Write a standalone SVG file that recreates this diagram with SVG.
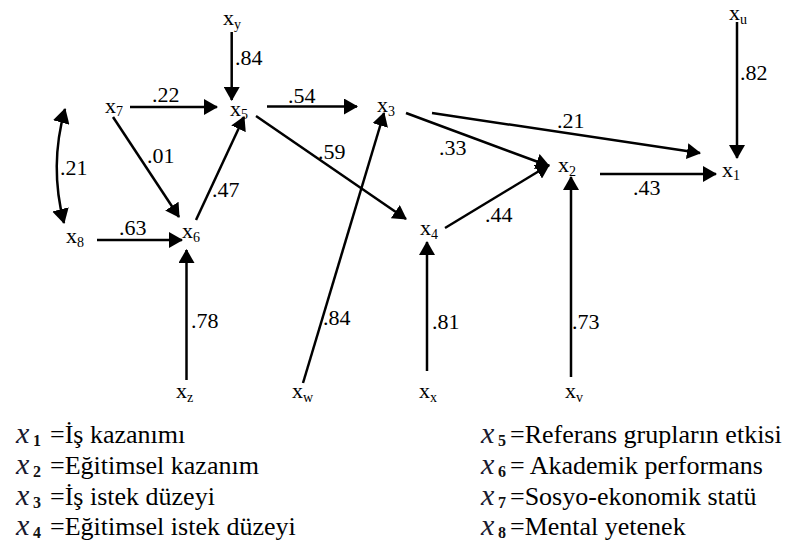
<svg xmlns="http://www.w3.org/2000/svg" width="800" height="554" viewBox="0 0 800 554">
<style>
text{font-family:"Liberation Serif",Tinos,"Times New Roman","DejaVu Serif",serif;fill:#000}
.n{font-size:22px}
.s{font-size:14px}
.lb{font-size:22px}
.lg{font-size:26px}
.lx{font-size:30px;font-style:italic;fill:#1a1a30}
.ls{font-size:16px;font-weight:bold;fill:#111}
.c{stroke:#000;stroke-width:2.5;fill:none}
.a{marker-end:url(#ah)}
</style>
<defs>
<marker id="ah" markerUnits="userSpaceOnUse" viewBox="0 -8 14 16" markerWidth="14" markerHeight="16" refX="13" refY="0" orient="auto">
<path d="M0,-8 L14,0 L0,8 z" fill="#000"/>
</marker>
<marker id="ah2" markerUnits="userSpaceOnUse" viewBox="0 -8.5 15 17" markerWidth="15" markerHeight="17" refX="14" refY="0" orient="auto-start-reverse">
<path d="M0,-8.5 L15,0 L0,8.5 z" fill="#000"/>
</marker>
</defs>
<rect width="800" height="554" fill="#fff"/>
<g id="connectors">
<line class="c a" x1="231.7" y1="32" x2="231.7" y2="100"/>
<line class="c a" x1="130" y1="107" x2="217" y2="107"/>
<line class="c a" x1="113" y1="117" x2="179" y2="217"/>
<line class="c a" x1="196" y1="220" x2="244" y2="117"/>
<line class="c a" x1="97" y1="240" x2="182" y2="240"/>
<path class="c" d="M65,109 Q49,166 64,223" marker-start="url(#ah2)" marker-end="url(#ah2)"/>
<line class="c a" x1="267" y1="106.5" x2="357" y2="106.5"/>
<line class="c a" x1="256" y1="116" x2="406" y2="219"/>
<line class="c a" x1="303" y1="383" x2="384" y2="113"/>
<line class="c a" x1="406" y1="113" x2="549" y2="166"/>
<line class="c a" x1="445" y1="228" x2="549" y2="165"/>
<line class="c a" x1="432" y1="113" x2="700" y2="153"/>
<line class="c a" x1="600" y1="174" x2="716" y2="174"/>
<line class="c a" x1="737" y1="22" x2="737" y2="158"/>
<line class="c a" x1="571" y1="377" x2="571" y2="177"/>
<line class="c a" x1="427" y1="371" x2="427" y2="242"/>
<line class="c a" x1="186.5" y1="380" x2="186.5" y2="250"/>
<text class="lb" x="235" y="65">.84</text>
<text class="lb" x="152" y="102">.22</text>
<text class="lb" x="147" y="163">.01</text>
<text class="lb" x="212" y="197">.47</text>
<text class="lb" x="119" y="235">.63</text>
<text class="lb" x="60" y="175">.21</text>
<text class="lb" x="288" y="103">.54</text>
<text class="lb" x="318" y="159">.59</text>
<text class="lb" x="323" y="325">.84</text>
<text class="lb" x="439" y="155">.33</text>
<text class="lb" x="485" y="222">.44</text>
<text class="lb" x="557" y="128">.21</text>
<text class="lb" x="633" y="195">.43</text>
<text class="lb" x="740" y="80">.82</text>
<text class="lb" x="191" y="328">.78</text>
<text class="lb" x="432" y="329">.81</text>
<text class="lb" x="572" y="329">.73</text>
</g>
<g id="xy"><text class="n" x="223" y="25">x<tspan class="s" dy="4">y</tspan></text></g>
<g id="x7"><text class="n" x="105" y="113">x<tspan class="s" dy="3">7</tspan></text></g>
<g id="x5"><text class="n" x="230" y="116">x<tspan class="s" dy="3">5</tspan></text></g>
<g id="x8"><text class="n" x="66" y="243">x<tspan class="s" dy="4">8</tspan></text></g>
<g id="x6"><text class="n" x="182" y="238">x<tspan class="s" dy="4">6</tspan></text></g>
<g id="x3"><text class="n" x="377" y="112">x<tspan class="s" dy="4">3</tspan></text></g>
<g id="x4"><text class="n" x="420" y="235">x<tspan class="s" dy="4">4</tspan></text></g>
<g id="x2"><text class="n" x="558" y="172">x<tspan class="s" dy="4">2</tspan></text></g>
<g id="xu"><text class="n" x="729" y="20">x<tspan class="s" dy="4">u</tspan></text></g>
<g id="x1"><text class="n" x="722" y="177">x<tspan class="s" dy="3">1</tspan></text></g>
<g id="xz"><text class="n" x="176" y="398">x<tspan class="s" dy="4">z</tspan></text></g>
<g id="xw"><text class="n" x="292" y="398">x<tspan class="s" dy="4">w</tspan></text></g>
<g id="xx"><text class="n" x="419" y="398">x<tspan class="s" dy="4">x</tspan></text></g>
<g id="xv"><text class="n" x="565" y="398">x<tspan class="s" dy="4">v</tspan></text></g>
<g id="legend">
<text class="lx" x="16" y="443">x</text><text class="ls" x="33" y="446">1</text><text class="lg" x="50" y="443">=İş kazanımı</text>
<text class="lx" x="16" y="474">x</text><text class="ls" x="33" y="477">2</text><text class="lg" x="50" y="474">=Eğitimsel kazanım</text>
<text class="lx" x="16" y="505">x</text><text class="ls" x="33" y="508">3</text><text class="lg" x="50" y="505">=İş istek düzeyi</text>
<text class="lx" x="16" y="535">x</text><text class="ls" x="33" y="538">4</text><text class="lg" x="50" y="535">=Eğitimsel istek düzeyi</text>
<text class="lx" x="481" y="443">x</text><text class="ls" x="498" y="446">5</text><text class="lg" x="510" y="443">=Referans grupların etkisi</text>
<text class="lx" x="481" y="474">x</text><text class="ls" x="498" y="477">6</text><text class="lg" x="510" y="474">= Akademik performans</text>
<text class="lx" x="481" y="505">x</text><text class="ls" x="498" y="508">7</text><text class="lg" x="510" y="505">=Sosyo-ekonomik statü</text>
<text class="lx" x="481" y="535">x</text><text class="ls" x="498" y="538">8</text><text class="lg" x="510" y="535">=Mental yetenek</text>
</g>
</svg>
